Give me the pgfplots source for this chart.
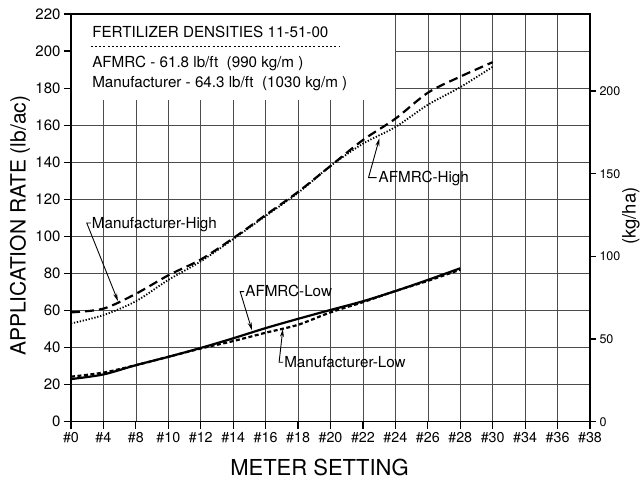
\documentclass[border=0pt]{standalone}
\usepackage{fontspec}
\setmainfont{TeX Gyre Heros}
\usepackage{pgfplots}
\pgfplotsset{compat=1.18}
\usetikzlibrary{arrows.meta}

\pgfplotstableread{
x y
0 59
1 61
2 69
3 79
4 87.5
5 99
6 111.5
7 124
8 138
9 152
10 163.5
11 177.5
12 186.2
13 194
}\afmrchigh
\pgfplotstableread{
x y
0 53
1 57.5
2 65
3 76.5
4 86.5
5 98.5
6 111
7 123.5
8 138
9 150
10 159
11 171
12 180.5
13 191.5
}\manhigh
\pgfplotstableread{
x y
0 23
1 25.5
2 30.5
3 35
4 39.8
5 45
6 50.5
7 55.5
8 60.3
9 65
10 70.5
11 76.5
12 82.8
}\afmrclow
\pgfplotstableread{
x y
0 24.3
1 26.5
2 30.5
3 35
4 39.5
5 43.5
6 48
7 52.3
8 59
9 64.5
10 70.5
11 76
12 82
}\manlow

\begin{document}
\begin{tikzpicture}[x=1pt,y=1pt]
\begin{axis}[
  at={(0,0)}, anchor=south west,
  scale only axis, width=519pt, height=407.7pt,
  xmin=0, xmax=16, ymin=0, ymax=220,
  xtick={0,...,16},
  xticklabels={\#0,\#4,\#8,\#10,\#12,\#14,\#16,\#18,\#20,\#22,\#24,\#26,\#28,\#30,\#34,\#36,\#38},
  ytick={0,20,...,220},
  grid=major,
  major grid style={black!70, line width=0.6pt},
  axis line style={line width=1.5pt},
  tick align=outside, major tick length=7pt,
  xtick pos=bottom, ytick pos=left,
  tick style={black, line width=1.2pt},
  /pgf/number format/assume math mode=true,
  yticklabel style={font=\fontsize{15}{15}\selectfont},
  xticklabel style={font=\fontsize{14.3}{15}\selectfont},
  clip=false,
]
\addplot[black, line width=2.2pt, dash pattern=on 9pt off 5pt, smooth] table {\afmrchigh};
\addplot[black, line width=1.8pt, dash pattern=on 1.3pt off 1.7pt, smooth] table {\manhigh};
\addplot[black, line width=2.2pt, smooth] table {\afmrclow};
\addplot[black, line width=2.2pt, dash pattern=on 4pt off 2.5pt, smooth] table {\manlow};

\fill[white] ([xshift=0.9pt]axis cs:0,173.6) rectangle ([xshift=-0.4pt,yshift=-0.9pt]axis cs:10,220);

\node[anchor=base west, font=\fontsize{15.2}{15}\selectfont, inner sep=0pt] at (axis cs:0.65,207.2) {FERTILIZER DENSITIES 11-51-00};
\draw[line width=0.8pt, dash pattern=on 2pt off 2.2pt] (axis cs:0.61,202.4) -- (axis cs:8.3,202.4);
\node[anchor=base west, font=\fontsize{15.2}{15}\selectfont, inner sep=0pt] at (axis cs:0.65,191) {AFMRC - 61.8 lb/ft\ \ (990 kg/m\ )};
\node[anchor=base west, font=\fontsize{15.2}{15}\selectfont, inner sep=0pt] at (axis cs:0.65,180.5) {Manufacturer - 64.3 lb/ft\ \ (1030 kg/m\ )};

\node[anchor=base west, font=\fontsize{15.2}{15}\selectfont, inner sep=0pt] (mh) at (axis cs:0.64,104.5) {Manufacturer-High};
\draw[line width=0.9pt, -{Stealth[length=8pt,width=4pt]}] ([xshift=-1pt,yshift=5pt]mh.base west) -- ([xshift=-5pt,yshift=5pt]mh.base west) -- (axis cs:1.45,65);

\node[anchor=base west, font=\fontsize{15.2}{15}\selectfont, inner sep=0pt] (al) at (axis cs:5.37,67.5) {AFMRC-Low};
\draw[line width=0.9pt, -{Stealth[length=8pt,width=4pt]}] ([xshift=-1pt,yshift=5pt]al.base west) -- ([xshift=-5pt,yshift=5pt]al.base west) -- (axis cs:5.58,49.3);

\node[anchor=base west, font=\fontsize{15.2}{15}\selectfont, inner sep=0pt] (ml) at (axis cs:6.57,29.4) {Manufacturer-Low};
\draw[line width=0.9pt, -{Stealth[length=8pt,width=4pt]}] ([xshift=-1pt,yshift=5pt]ml.base west) -- ([xshift=-5pt,yshift=5pt]ml.base west) -- (axis cs:6.53,50);

\node[anchor=base west, font=\fontsize{15.2}{15}\selectfont, inner sep=0pt] (ah) at (axis cs:9.48,129) {AFMRC-High};
\draw[line width=0.9pt, -{Stealth[length=8pt,width=4pt]}] ([xshift=-2pt,yshift=5pt]ah.base west) -- ([xshift=-10pt,yshift=5pt]ah.base west) -- (axis cs:9.51,153);
\end{axis}

\begin{axis}[
  at={(0,0)}, anchor=south west,
  scale only axis, width=519pt, height=407.7pt,
  xmin=0, xmax=16, ymin=0, ymax=246.587,
  axis x line=none, axis y line*=right,
  ytick={0,50,...,200},
  tick align=outside, major tick length=6pt,
  tick style={black, line width=1.2pt},
  axis line style={line width=1.5pt},
  /pgf/number format/assume math mode=true,
  yticklabel style={font=\fontsize{12.5}{12}\selectfont},
]
\end{axis}

\node[rotate=90, font=\fontsize{21}{21}\selectfont] at (-51,195.9) {APPLICATION RATE (lb/ac)};
\node[font=\fontsize{22}{22}\selectfont] at (248.5,-45.8) {METER SETTING};
\node[rotate=90, font=\fontsize{18.5}{18}\selectfont] at (560,205.7) {(kg/ha)};

\pgfresetboundingbox
\path[use as bounding box] (-71,-59.3) rectangle (571,421.7);
\end{tikzpicture}
\end{document}
